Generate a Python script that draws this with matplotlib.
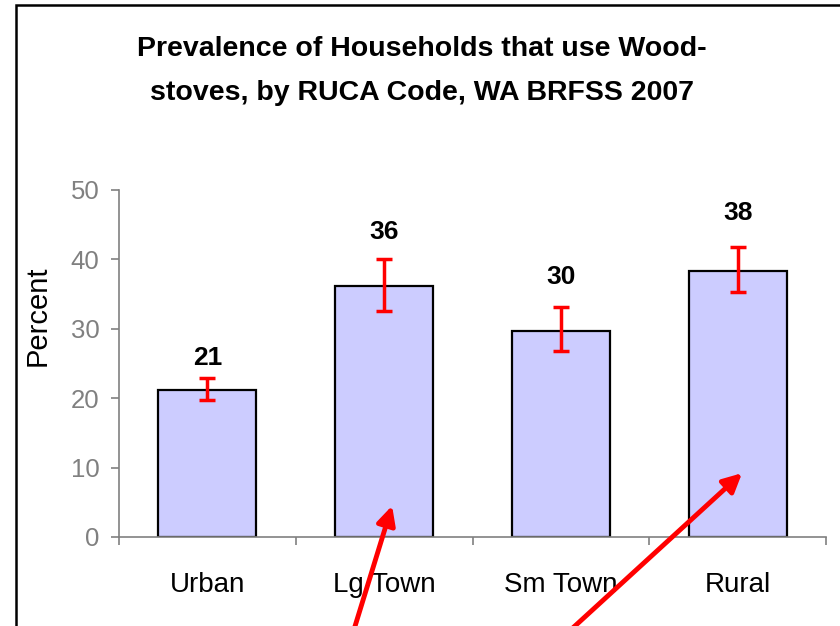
import numpy as np
import matplotlib
matplotlib.use("Agg")
import matplotlib.pyplot as plt
from matplotlib.patches import Rectangle

categories = ["Urban", "Lg Town", "Sm Town", "Rural"]
percent = [21.2, 36.2, 29.7, 38.3]
ci_low = [19.7, 32.6, 26.8, 35.3]
ci_high = [22.9, 40.0, 33.1, 41.8]
value_labels = ["21", "36", "30", "38"]
y_ticks = [0, 10, 20, 30, 40, 50]

# arrows pointing into the Lg Town and Rural bars (tip in data coords)
arrow_tips = [(1.045, 4.5), (3.025, 9.2)]
arrow_tails_px = [(352, -10), (564, -10)]

narrow = ["Liberation Sans Narrow", "Liberation Sans", "DejaVu Sans"]
regular = ["Liberation Sans", "DejaVu Sans"]

fig = plt.figure(figsize=(8.4, 6.26), dpi=100)
W, H = 840, 626
ax = fig.add_axes([119 / W, 1 - 537 / H, 707 / W, 347 / H])

x = np.arange(len(categories))
err = [np.array(percent) - np.array(ci_low), np.array(ci_high) - np.array(percent)]
ax.bar(x, percent, width=0.555, color="#ccccff", edgecolor="black", linewidth=1.6, zorder=2)
ax.errorbar(x, percent, yerr=err, fmt="none", ecolor="red", elinewidth=2.5,
            capsize=5.8, capthick=2.5, zorder=3)

# value labels above the error bars
label_offsets = [20, 27, 30, 34]  # px above upper CI
for xi, hi, lab, off in zip(x, ci_high, value_labels, label_offsets):
    ax.annotate(lab, (xi, hi), xytext=(0, off * 0.72), textcoords="offset points",
                ha="center", va="center", fontsize=19, fontweight="bold", family=narrow)

ax.set_xlim(-0.5, len(categories) - 0.5)
ax.set_ylim(0, 50)
ax.set_yticks(y_ticks)
ax.set_yticklabels([str(t) for t in y_ticks], family=narrow, fontsize=18.5, color="#808080")
ax.set_xticks(x)
ax.set_xticklabels(categories, family=narrow, fontsize=20)
ax.set_xticks(np.arange(-0.5, len(categories)), minor=True)
ax.tick_params(axis="x", which="major", length=0, pad=25)
ax.tick_params(axis="x", which="minor", length=6, width=1.2, color="#808080")
ax.tick_params(axis="y", length=6, width=1.2, color="#808080", pad=8)

for s in ["top", "right"]:
    ax.spines[s].set_visible(False)
for s in ["left", "bottom"]:
    ax.spines[s].set_color("#808080")
    ax.spines[s].set_linewidth(1.2)

fig.text(38 / W, 1 - 316 / H, "Percent", rotation=90, ha="center", va="center",
         fontsize=21, family=regular)

fig.text(422 / W, 1 - 71 / H,
         "Prevalence of Households that use Wood-\nstoves, by RUCA Code, WA BRFSS 2007",
         ha="center", va="center", fontsize=20.5, fontweight="bold", family=narrow,
         linespacing=1.85)

# outer frame (cut off at right and bottom)
fig.patches.append(Rectangle((16 / W, -0.1), 1.2, 1 - 5 / H + 0.1, transform=fig.transFigure,
                             fill=False, edgecolor="black", linewidth=1.8))

for (tx, ty), (px, py) in zip(arrow_tips, arrow_tails_px):
    ax.annotate("", xy=(tx, ty), xycoords="data", xytext=(px, py), textcoords="figure pixels",
                arrowprops=dict(arrowstyle="-|>", color="red", lw=3.5, mutation_scale=28,
                                shrinkA=0, shrinkB=0),
                annotation_clip=False, zorder=5)

fig.savefig("out.png", dpi=100)
